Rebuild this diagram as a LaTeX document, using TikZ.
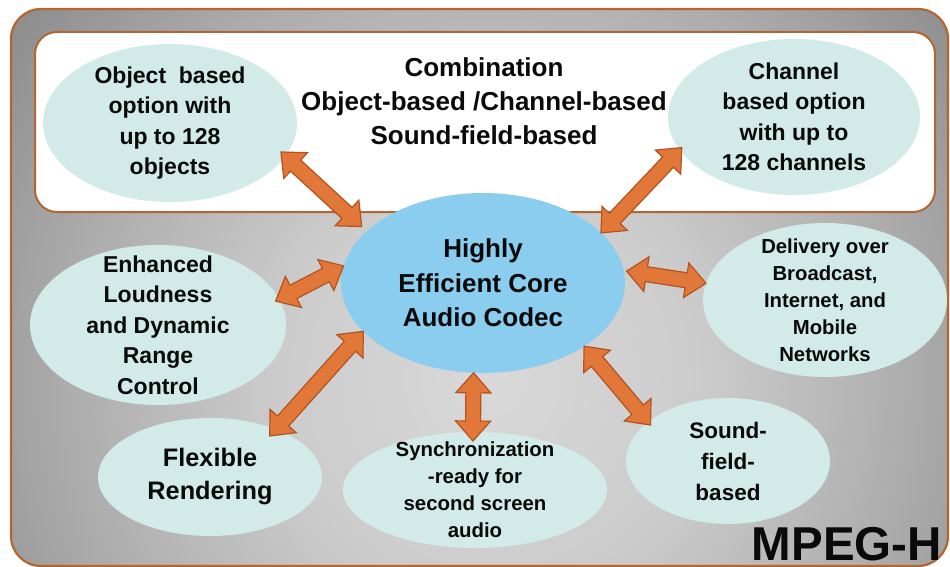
\documentclass[tikz,border=0pt]{standalone}
\usepackage{fontspec}
\setmainfont{Liberation Sans}
\usetikzlibrary{calc,shapes.geometric}

\definecolor{framebrown}{HTML}{B5652F}
\definecolor{bubblefill}{HTML}{D2EBE8}
\definecolor{corefill}{HTML}{8BCDEF}
\definecolor{arrowfill}{HTML}{E2773A}
\definecolor{arrowedge}{HTML}{B3531F}
\definecolor{inktext}{HTML}{0A0A0A}

% soft grey backdrop, light in the middle and darker towards the edges
\pgfdeclareradialshading{backdrop}{\pgfpointorigin}{%
  rgb(0bp)=(0.85,0.85,0.85);
  rgb(10bp)=(0.80,0.80,0.80);
  rgb(20bp)=(0.68,0.68,0.68);
  rgb(30bp)=(0.53,0.53,0.53);
  rgb(40bp)=(0.43,0.43,0.43);
  rgb(50bp)=(0.38,0.38,0.38);
  rgb(75bp)=(0.36,0.36,0.36)}

% block arrow sizes
\newcommand\arrowheadlen{20pt}
\newcommand\arrowheadhalf{17.5pt}
\newcommand\arrowshafthalf{7.5pt}

% double-headed block arrow between two anchors;
% #3 and #4 push each tip that far beyond its anchor (negative: stop short)
\newcommand\bigdoublearrow[4]{%
  \coordinate (da-p) at ($(#1)!-#3!(#2)$);
  \coordinate (da-q) at ($(#2)!-#4!(#1)$);
  \coordinate (da-hp) at ($(da-p)!\arrowheadlen!(da-q)$);
  \coordinate (da-hq) at ($(da-q)!\arrowheadlen!(da-p)$);
  \draw[blockarrow] (da-p)
    -- ($(da-hp)!\arrowheadhalf!90:(da-q)$)
    -- ($(da-hp)!\arrowshafthalf!90:(da-q)$)
    -- ($(da-hq)!\arrowshafthalf!-90:(da-p)$)
    -- ($(da-hq)!\arrowheadhalf!-90:(da-p)$)
    -- (da-q)
    -- ($(da-hq)!\arrowheadhalf!90:(da-p)$)
    -- ($(da-hq)!\arrowshafthalf!90:(da-p)$)
    -- ($(da-hp)!\arrowshafthalf!-90:(da-q)$)
    -- ($(da-hp)!\arrowheadhalf!-90:(da-q)$)
    -- cycle;
}

\begin{document}
\begin{tikzpicture}[x=1pt,y=-1pt,
  bubble/.style={ellipse, fill=bubblefill, inner sep=-20pt, outer sep=0pt,
    align=center, text=inktext},
  corebubble/.style={bubble, fill=corefill},
  blockarrow/.style={fill=arrowfill, draw=arrowedge, line width=1.2pt, line join=miter},
  fa/.style={font=\fontsize{23}{30.5}\selectfont\bfseries},
  fcore/.style={font=\fontsize{26}{34.5}\selectfont\bfseries},
  ftitle/.style={font=\fontsize{26}{34}\selectfont\bfseries},
  fflex/.style={font=\fontsize{25.3}{33}\selectfont\bfseries},
  fsync/.style={font=\fontsize{20.4}{27}\selectfont\bfseries},
  fsound/.style={font=\fontsize{22.5}{31}\selectfont\bfseries},
  fdeliv/.style={font=\fontsize{20.3}{27}\selectfont\bfseries},
  fbrand/.style={font=\fontsize{47.5}{50}\selectfont\bfseries},
]
\useasboundingbox (0,0) rectangle (950,567);
\fill[white] (0,0) rectangle (950,567);

% outer frame with shaded backdrop
\begin{scope}
  \clip[rounded corners=30pt] (11,9) rectangle (948,566);
  \shade[shading=backdrop] (-30,-150) rectangle (1010,910);
\end{scope}
\draw[framebrown, line width=2.2pt, rounded corners=30pt] (11,9) rectangle (948,566);

% white panel for the combined formats
\node[draw=framebrown, fill=white, line width=2pt, rounded corners=22pt,
  minimum width=900pt, minimum height=180pt, inner sep=0pt] (combo) at (485,122) {};
\node[ftitle, align=center, text=inktext] (title) at (484,101.5)
  {Combination\\Object-based /Channel-based\\Sound-field-based};

% feature bubbles
\node[bubble, fa, minimum width=254pt, minimum height=158pt] (obj) at (170,123)
  {Object\ \ based\\option with\\up to 128\\objects};
\node[bubble, fa, minimum width=252pt, minimum height=156pt] (channel) at (794,117)
  {Channel\\based option\\with up to\\128 channels};
\node[corebubble, fcore, minimum width=284pt, minimum height=180pt] (core) at (483,283)
  {Highly\\Efficient Core\\Audio Codec};
\node[bubble, fa, minimum width=256pt, minimum height=160pt] (enh) at (158,325)
  {Enhanced\\Loudness\\and Dynamic\\Range\\Control};
\node[bubble, fdeliv, minimum width=244pt, minimum height=154pt] (deliv) at (825,300)
  {Delivery over\\Broadcast,\\Internet, and\\Mobile\\Networks};
\node[bubble, fflex, minimum width=224pt, minimum height=118pt] (flex) at (210,477)
  {Flexible\\Rendering};
\node[bubble, fsync, minimum width=264pt, minimum height=116pt] (sync) at (475,490)
  {Synchronization\\-ready for\\second screen\\audio};
\node[bubble, fsound, minimum width=204pt, minimum height=126pt] (sound) at (728,461)
  {Sound-\\field-\\based};

% connectors to the core codec
\bigdoublearrow{obj.-16}{core.156}{6pt}{-7pt}
\bigdoublearrow{channel.196}{core.23}{3pt}{0pt}
\bigdoublearrow{enh.12}{core.173}{4pt}{0pt}
\bigdoublearrow{core.5}{deliv.172}{-3pt}{0pt}
\bigdoublearrow{flex.36}{core.202}{9pt}{0pt}
\bigdoublearrow{core.-96}{sync.92}{0pt}{9pt}
\bigdoublearrow{core.-32}{sound.154}{0pt}{4pt}

% standard name
\node[fbrand, anchor=base east, text=inktext, inner sep=0pt] (brand) at (942,560) {MPEG-H};
\end{tikzpicture}
\end{document}
